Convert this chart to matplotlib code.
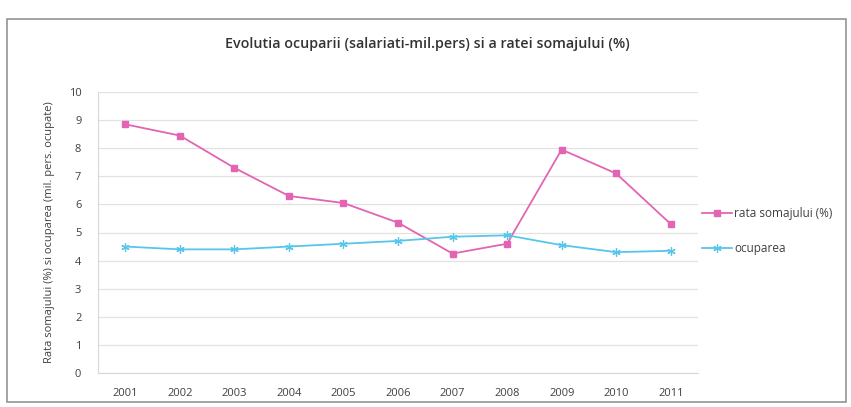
import matplotlib
matplotlib.use('Agg')
import matplotlib.pyplot as plt
from matplotlib.patches import Rectangle

# date
ani = ['2001', '2002', '2003', '2004', '2005', '2006', '2007', '2008', '2009', '2010', '2011']
rata_somaj = [8.85, 8.45, 7.3, 6.3, 6.05, 5.35, 4.25, 4.6, 7.95, 7.1, 5.3]
ocuparea = [4.5, 4.4, 4.4, 4.5, 4.6, 4.7, 4.85, 4.9, 4.55, 4.3, 4.35]

TITLU = "Evolutia ocuparii (salariati-mil.pers) si a ratei somajului (%)"
ETICHETA_Y = "Rata somajului (%) si ocuparea (mil. pers. ocupate)"

ROZ = '#e264b2'
CYAN = '#58c6ea'
TEXT = '#404040'

plt.rcParams['font.family'] = ['Open Sans', 'DejaVu Sans']

fig = plt.figure(figsize=(8.51, 4.07), dpi=100)
fig.patch.set_facecolor('white')

# chenarul graficului
fig.add_artist(Rectangle((7/851, 5/407), 839/851, 383/407, transform=fig.transFigure,
                         fill=False, edgecolor='#8a8a8a', linewidth=1.1))

ax = fig.add_axes([98/851, 34/407, 600/851, 281/407])
x = list(range(len(ani)))
ax.plot(x, rata_somaj, color=ROZ, linewidth=1.3, marker='s', markersize=5,
        markerfacecolor=ROZ, markeredgecolor=ROZ, label='rata somajului (%)')
ax.plot(x, ocuparea, color=CYAN, linewidth=1.3, marker=(6, 2, 0), markersize=6,
        markeredgewidth=0.9, markeredgecolor=CYAN, label='ocuparea')

ax.set_xlim(-0.5, len(ani) - 0.5)
ax.set_ylim(0, 10)
ax.set_yticks(range(0, 11))
ax.set_xticks(x)
ax.set_xticklabels(ani)
ax.tick_params(axis='both', labelsize=8, colors=TEXT, length=0)
ax.tick_params(axis='x', pad=11)
ax.tick_params(axis='y', pad=12)
ax.grid(axis='y', color='#e2e2e2', linewidth=0.9)
ax.set_axisbelow(True)
for s in ['top', 'right']:
    ax.spines[s].set_visible(False)
ax.spines['left'].set_color('#d8d8d8')
ax.spines['bottom'].set_color('#d8d8d8')

ax.set_ylabel(ETICHETA_Y, fontsize=8, color=TEXT, labelpad=10)

fig.text(427/851, 1 - 44/407, TITLU, ha='center', va='center', fontsize=10.3,
         fontweight='semibold', color='#333333')

leg = ax.legend(loc='center left', bbox_to_anchor=(1.007, 0.505), frameon=False,
                fontsize=8.5, handlelength=2.5, labelspacing=1.9, handletextpad=0.2,
                borderpad=0, borderaxespad=0)
for t in leg.get_texts():
    t.set_color(TEXT)

fig.savefig('out.png', dpi=100)
